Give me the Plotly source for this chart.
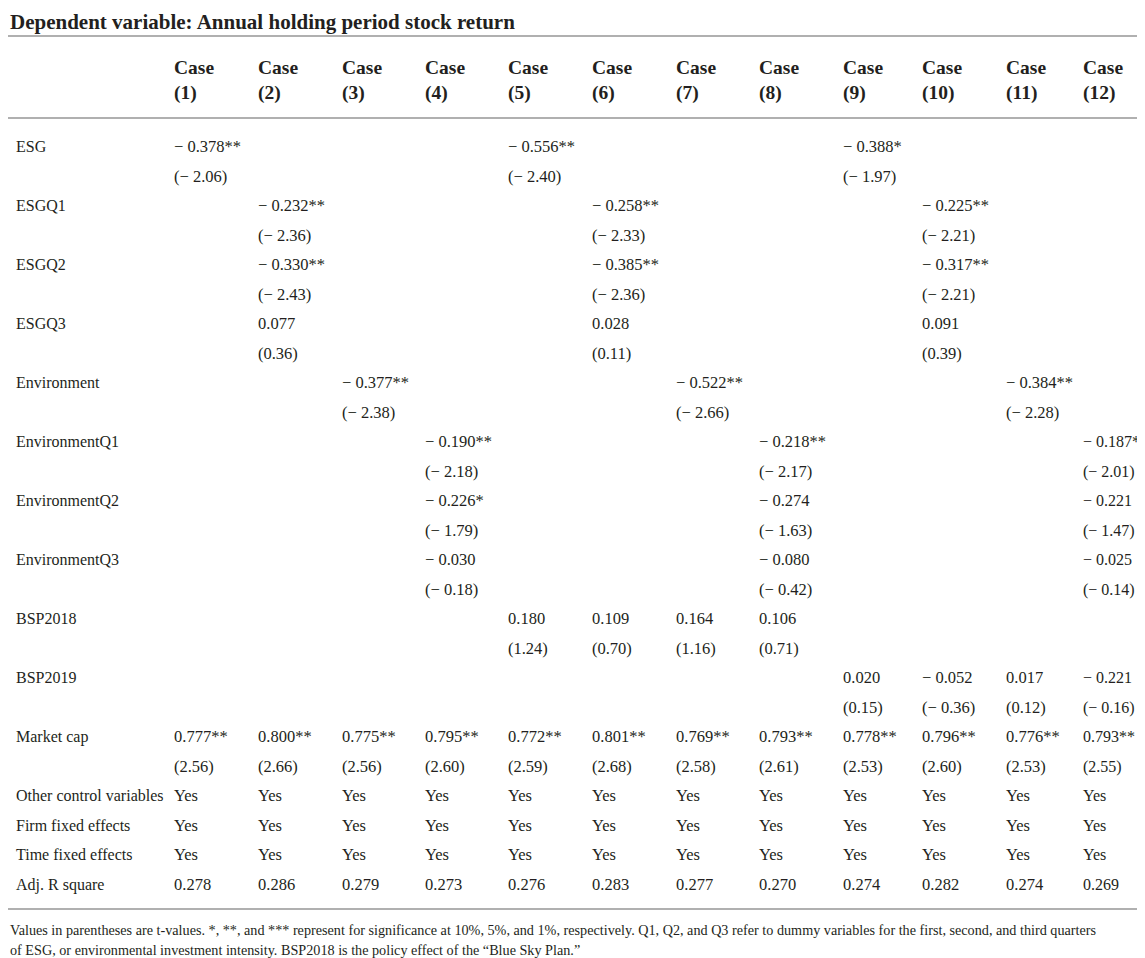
import plotly.graph_objects as go

# Regression table: annual holding period stock return
case_labels = ["(1)", "(2)", "(3)", "(4)", "(5)", "(6)", "(7)", "(8)", "(9)", "(10)", "(11)", "(12)"]

esg_coef = ["− 0.378**", "", "", "", "− 0.556**", "", "", "", "− 0.388*", "", "", ""]
esg_t = ["(− 2.06)", "", "", "", "(− 2.40)", "", "", "", "(− 1.97)", "", "", ""]
esgq1_coef = ["", "− 0.232**", "", "", "", "− 0.258**", "", "", "", "− 0.225**", "", ""]
esgq1_t = ["", "(− 2.36)", "", "", "", "(− 2.33)", "", "", "", "(− 2.21)", "", ""]
esgq2_coef = ["", "− 0.330**", "", "", "", "− 0.385**", "", "", "", "− 0.317**", "", ""]
esgq2_t = ["", "(− 2.43)", "", "", "", "(− 2.36)", "", "", "", "(− 2.21)", "", ""]
esgq3_coef = ["", "0.077", "", "", "", "0.028", "", "", "", "0.091", "", ""]
esgq3_t = ["", "(0.36)", "", "", "", "(0.11)", "", "", "", "(0.39)", "", ""]
env_coef = ["", "", "− 0.377**", "", "", "", "− 0.522**", "", "", "", "− 0.384**", ""]
env_t = ["", "", "(− 2.38)", "", "", "", "(− 2.66)", "", "", "", "(− 2.28)", ""]
envq1_coef = ["", "", "", "− 0.190**", "", "", "", "− 0.218**", "", "", "", "− 0.187*"]
envq1_t = ["", "", "", "(− 2.18)", "", "", "", "(− 2.17)", "", "", "", "(− 2.01)"]
envq2_coef = ["", "", "", "− 0.226*", "", "", "", "− 0.274", "", "", "", "− 0.221"]
envq2_t = ["", "", "", "(− 1.79)", "", "", "", "(− 1.63)", "", "", "", "(− 1.47)"]
envq3_coef = ["", "", "", "− 0.030", "", "", "", "− 0.080", "", "", "", "− 0.025"]
envq3_t = ["", "", "", "(− 0.18)", "", "", "", "(− 0.42)", "", "", "", "(− 0.14)"]
bsp2018_coef = ["", "", "", "", "0.180", "0.109", "0.164", "0.106", "", "", "", ""]
bsp2018_t = ["", "", "", "", "(1.24)", "(0.70)", "(1.16)", "(0.71)", "", "", "", ""]
bsp2019_coef = ["", "", "", "", "", "", "", "", "0.020", "− 0.052", "0.017", "− 0.221"]
bsp2019_t = ["", "", "", "", "", "", "", "", "(0.15)", "(− 0.36)", "(0.12)", "(− 0.16)"]
mcap_coef = ["0.777**", "0.800**", "0.775**", "0.795**", "0.772**", "0.801**",
             "0.769**", "0.793**", "0.778**", "0.796**", "0.776**", "0.793**"]
mcap_t = ["(2.56)", "(2.66)", "(2.56)", "(2.60)", "(2.59)", "(2.68)",
          "(2.58)", "(2.61)", "(2.53)", "(2.60)", "(2.53)", "(2.55)"]
other_controls = ["Yes"] * 12
firm_fe = ["Yes"] * 12
time_fe = ["Yes"] * 12
adj_r2 = ["0.278", "0.286", "0.279", "0.273", "0.276", "0.283",
          "0.277", "0.270", "0.274", "0.282", "0.274", "0.269"]

rows = [
    ("ESG", esg_coef), ("", esg_t),
    ("ESGQ1", esgq1_coef), ("", esgq1_t),
    ("ESGQ2", esgq2_coef), ("", esgq2_t),
    ("ESGQ3", esgq3_coef), ("", esgq3_t),
    ("Environment", env_coef), ("", env_t),
    ("EnvironmentQ1", envq1_coef), ("", envq1_t),
    ("EnvironmentQ2", envq2_coef), ("", envq2_t),
    ("EnvironmentQ3", envq3_coef), ("", envq3_t),
    ("BSP2018", bsp2018_coef), ("", bsp2018_t),
    ("BSP2019", bsp2019_coef), ("", bsp2019_t),
    ("Market cap", mcap_coef), ("", mcap_t),
    ("Other control variables", other_controls),
    ("Firm fixed effects", firm_fe),
    ("Time fixed effects", time_fe),
    ("Adj. R square", adj_r2),
]

note_1 = ("Values in parentheses are t-values. *, **, and *** represent for significance at 10%, 5%, and 1%, "
          "respectively. Q1, Q2, and Q3 refer to dummy variables for the first, second, and third quarters")
note_2 = "of ESG, or environmental investment intensity. BSP2018 is the policy effect of the \u201cBlue Sky Plan.\u201d"

SERIF = "Liberation Serif"
INK = "#231f20"
# the page body has an 8px margin, so the figure is drawn 8px smaller than the window
W, H = 1137, 950


def nb(s):
    # no wrapping inside a cell
    return s.replace(" ", "\u00a0")


def py(px):
    return 1 - px / H


header_vals = [""] + ["<b>Case<br>" + c + "</b>" for c in case_labels]
columns = [[nb(r[0]) for r in rows]]
for j in range(12):
    columns.append([nb(r[1][j]) for r in rows])

col_w = [158, 84, 84, 83, 83, 84, 84, 83, 84, 79, 84, 77, 70]

fig = go.Figure(go.Table(
    domain=dict(x=[0, 1], y=[py(897), py(41)]),
    columnwidth=col_w,
    header=dict(values=header_vals, align="left", height=83,
                fill_color="white", line_color="white",
                font=dict(family=SERIF, size=19.5, color=INK)),
    cells=dict(values=columns, align="left", height=29.5,
               fill_color="white", line_color="white",
               font=dict(family=SERIF, size=[16] + [16.5] * 11 + [16], color=INK)),
))

for ypx in [28, 110, 901]:
    fig.add_shape(type="line", xref="paper", yref="paper", x0=0, x1=1,
                  y0=py(ypx), y1=py(ypx), line=dict(color="#b0b0b0", width=2))

fig.add_annotation(text="<b>Dependent variable: Annual holding period stock return</b>",
                   xref="paper", yref="paper", x=0, y=1, xanchor="left", yanchor="top",
                   showarrow=False, font=dict(family=SERIF, size=21, color=INK))
for txt, ypx in [(note_1, 922), (note_2, 942)]:
    fig.add_annotation(text=txt, xref="paper", yref="paper", x=0, y=py(ypx),
                       xanchor="left", yanchor="middle", align="left", showarrow=False,
                       font=dict(family=SERIF, size=14.2, color=INK))

fig.update_layout(width=W, height=H, margin=dict(l=0, r=0, t=0, b=0),
                  paper_bgcolor="white", plot_bgcolor="white")

fig.write_html("out.html")
